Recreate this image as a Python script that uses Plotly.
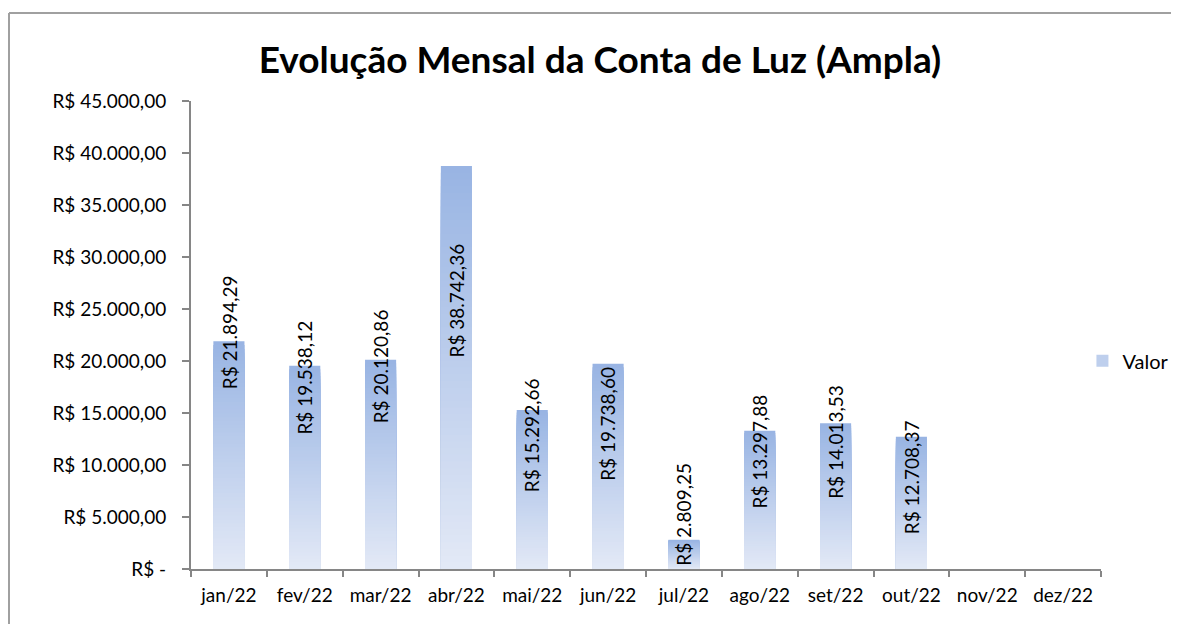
import plotly.graph_objects as go

# ---- data ----
months = ["jan/22", "fev/22", "mar/22", "abr/22", "mai/22", "jun/22",
          "jul/22", "ago/22", "set/22", "out/22", "nov/22", "dez/22"]
values = [21894.29, 19538.12, 20120.86, 38742.36, 15292.66, 19738.60,
          2809.25, 13297.88, 14013.53, 12708.37, None, None]
y_ticks = [0, 5000, 10000, 15000, 20000, 25000, 30000, 35000, 40000, 45000]
title_text = "Evolução Mensal da Conta de Luz (Ampla)"
series_name = "Valor"

# ---- styling ----
label_offset_px = [-9, 12, 7, 134, 25, 60, -26, 21, 19, 40, 0, 0]
top_rgb = (152, 180, 227)
bottom_rgb = (227, 233, 246)
FONT = "Lato"
N_LAYERS = 60


def brl(v):
    if v == 0:
        return "R$ -"
    s = f"{v:,.2f}"
    s = s.replace(",", "X").replace(".", ",").replace("X", ".")
    return "R$ " + s


def lerp(a, b, t):
    return "rgb(%d,%d,%d)" % tuple(round(a[i] + (b[i] - a[i]) * t) for i in range(3))


fig = go.Figure()

# gradient bars: overlaid layers derived from the data values
for k in range(N_LAYERS):
    frac_h = (N_LAYERS - k) / N_LAYERS
    frac_c = (N_LAYERS - k - 0.5) / N_LAYERS
    ys = [None if v is None else v * frac_h for v in values]
    fig.add_trace(go.Bar(
        x=months, y=ys, width=0.41,
        marker=dict(color=lerp(bottom_rgb, top_rgb, frac_c), line=dict(width=0)),
        name=series_name,
        showlegend=(k == N_LAYERS // 2),
        hoverinfo="skip" if k else "x+y",
    ))

# data labels
for m, v, off in zip(months, values, label_offset_px):
    if v is None:
        continue
    fig.add_annotation(
        x=m, y=v, text=brl(v), textangle=-90, showarrow=False,
        xanchor="center", yanchor="middle", yshift=-off,
        font=dict(family=FONT, size=19, color="#000000"),
    )

# chart-area border (left and top edges; the others fall outside the view)
border = dict(color="#A0A0A0", width=2)
fig.add_shape(type="line", xref="paper", yref="paper",
              x0=-0.2, x1=-0.2, y0=-0.3, y1=1.188, line=border, layer="below")
fig.add_shape(type="line", xref="paper", yref="paper",
              x0=-0.2, x1=1.2, y0=1.188, y1=1.188, line=border, layer="below")

fig.update_layout(
    width=1163, height=616,
    margin=dict(l=183, r=70, t=93, b=55, autoexpand=False),
    paper_bgcolor="white", plot_bgcolor="white",
    barmode="overlay",
    title=dict(text=f"<b>{title_text}</b>", x=0.509, xanchor="center",
               y=0.9156, yanchor="middle",
               font=dict(family=FONT, size=37, color="#000000")),
    font=dict(family=FONT, size=19, color="#000000"),
    showlegend=True,
    legend=dict(x=0.9796, xanchor="left", y=0.445, yanchor="middle",
                font=dict(family=FONT, size=20, color="#000000"),
                itemwidth=30, bgcolor="rgba(0,0,0,0)"),
    xaxis=dict(type="category", categoryorder="array", categoryarray=months,
               tickson="boundaries", ticks="outside", ticklen=6,
               tickcolor="#868686", tickwidth=1.5,
               showline=True, linecolor="#868686", linewidth=2,
               showgrid=False, tickfont=dict(family=FONT, size=19),
               ticklabelstandoff=8,
               range=[-0.5, 11.5]),
    yaxis=dict(range=[0, 45000], tickvals=y_ticks,
               ticktext=[brl(t) for t in y_ticks],
               ticks="outside", ticklen=7, tickcolor="#868686", tickwidth=1.5,
               showline=True, linecolor="#868686", linewidth=2,
               showgrid=False, zeroline=False, ticklabelstandoff=12,
               tickfont=dict(family=FONT, size=19)),
)

fig.write_html("out.html")
